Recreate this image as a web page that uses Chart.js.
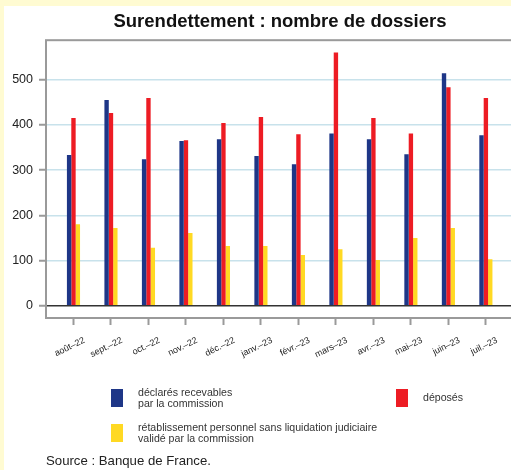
<!DOCTYPE html>
<html>
<head>
<meta charset="utf-8">
<script src="https://cdn.jsdelivr.net/npm/chart.js@4"></script>
<style>
  html, body { margin: 0; padding: 0; width: 511px; height: 470px; overflow: hidden; background: #fffbd2; }
  #panel { position: absolute; left: 4px; top: 6px; width: 520px; height: 470px; background: #fff; }
  #chart { position: absolute; left: 0; top: 0; }
</style>
</head>
<body>
<div id="panel"></div>
<canvas id="chart" width="520" height="470"></canvas>
<script>
const categories = ["août–22", "sept.–22", "oct.–22", "nov.–22", "déc.–22", "janv.–23",
  "févr.–23", "mars–23", "avr.–23", "mai–23", "juin–23", "juil.–23"];
const declares = [333, 455, 324, 364, 368, 331, 313, 381, 368, 335, 514, 377];
const deposes = [415, 426, 459, 366, 404, 417, 379, 560, 415, 381, 483, 459];
const retablissement = [180, 172, 128, 161, 132, 132, 112, 125, 101, 150, 172, 103];
const yTicks = [0, 100, 200, 300, 400, 500];

const font = "'Liberation Sans', Arial, sans-serif";

function points(values) {
  return values.map((v, i) => ({ x: i, y: v }));
}

// frame + legend + source, drawn on the canvas
const extras = {
  id: "extras",
  afterDraw(chart) {
    const c = chart.ctx;
    const a = chart.chartArea;
    c.save();
    c.strokeStyle = "#9a9a9a";
    c.lineWidth = 2;
    c.strokeRect(a.left, a.top, a.right - a.left, a.bottom - a.top);

    const spots = [
      { x: 111, y: 389, tx: 138, ty: 393 },
      { x: 396, y: 389, tx: 423, ty: 398 },
      { x: 111, y: 424, tx: 138, ty: 428 }
    ];
    c.font = "10.6px " + font;
    c.textBaseline = "middle";
    chart.data.datasets.forEach((ds, i) => {
      const s = spots[i];
      c.fillStyle = ds.backgroundColor;
      c.fillRect(s.x, s.y, 12, 18);
      c.fillStyle = "#333";
      const lines = Array.isArray(ds.label) ? ds.label : [ds.label];
      lines.forEach((l, k) => c.fillText(l, s.tx, s.ty + k * 11));
    });

    c.font = "13.2px " + font;
    c.fillStyle = "#222";
    c.fillText("Source : Banque de France.", 46, 461);
    c.restore();
  }
};

new Chart(document.getElementById("chart"), {
  type: "bar",
  data: {
    datasets: [
      { label: ["déclarés recevables", "par la commission"], data: points(declares), backgroundColor: "#1e3687" },
      { label: ["déposés"], data: points(deposes), backgroundColor: "#ed1c24" },
      { label: ["rétablissement personnel sans liquidation judiciaire", "validé par la commission"], data: points(retablissement), backgroundColor: "#ffd923" }
    ]
  },
  options: {
    responsive: false,
    animation: false,
    devicePixelRatio: 1,
    layout: { padding: { left: 0, right: 6, top: 0, bottom: 0 } },
    datasets: { bar: { categoryPercentage: 0.35, barPercentage: 1 } },
    plugins: {
      legend: { display: false },
      tooltip: { enabled: false },
      title: {
        display: true,
        text: "Surendettement : nombre de dossiers",
        fullSize: false,
        color: "#111",
        font: { family: font, size: 18.5, weight: "bold" },
        padding: { top: 11, bottom: 7 }
      }
    },
    scales: {
      x: {
        type: "linear",
        offset: false,
        min: -0.733,
        max: 11.75,
        afterBuildTicks: s => { s.ticks = categories.map((c, i) => ({ value: i })); },
        afterFit: s => { s.height = 152; },
        grid: { offset: false, drawOnChartArea: false, drawTicks: true, tickLength: 7, tickColor: "#9a9a9a", tickWidth: 2 },
        border: { display: false },
        ticks: {
          autoSkip: false,
          minRotation: 26,
          maxRotation: 26,
          padding: 10,
          labelOffset: 11,
          color: "#222",
          font: { family: font, size: 9 },
          callback: v => categories[v]
        }
      },
      y: {
        min: -27,
        max: 587,
        afterBuildTicks: s => { s.ticks = yTicks.map(v => ({ value: v })); },
        afterFit: s => { s.width = 46; },
        grid: {
          color: c => (c.tick && c.tick.value === 0 ? "#333" : "#c8e2eb"),
          lineWidth: 1.5,
          tickLength: 7,
          tickColor: "#9a9a9a",
          tickWidth: 2
        },
        border: { display: false },
        ticks: { color: "#222", padding: 6, font: { family: font, size: 12.5 } }
      }
    }
  },
  plugins: [extras]
});
</script>
</body>
</html>
